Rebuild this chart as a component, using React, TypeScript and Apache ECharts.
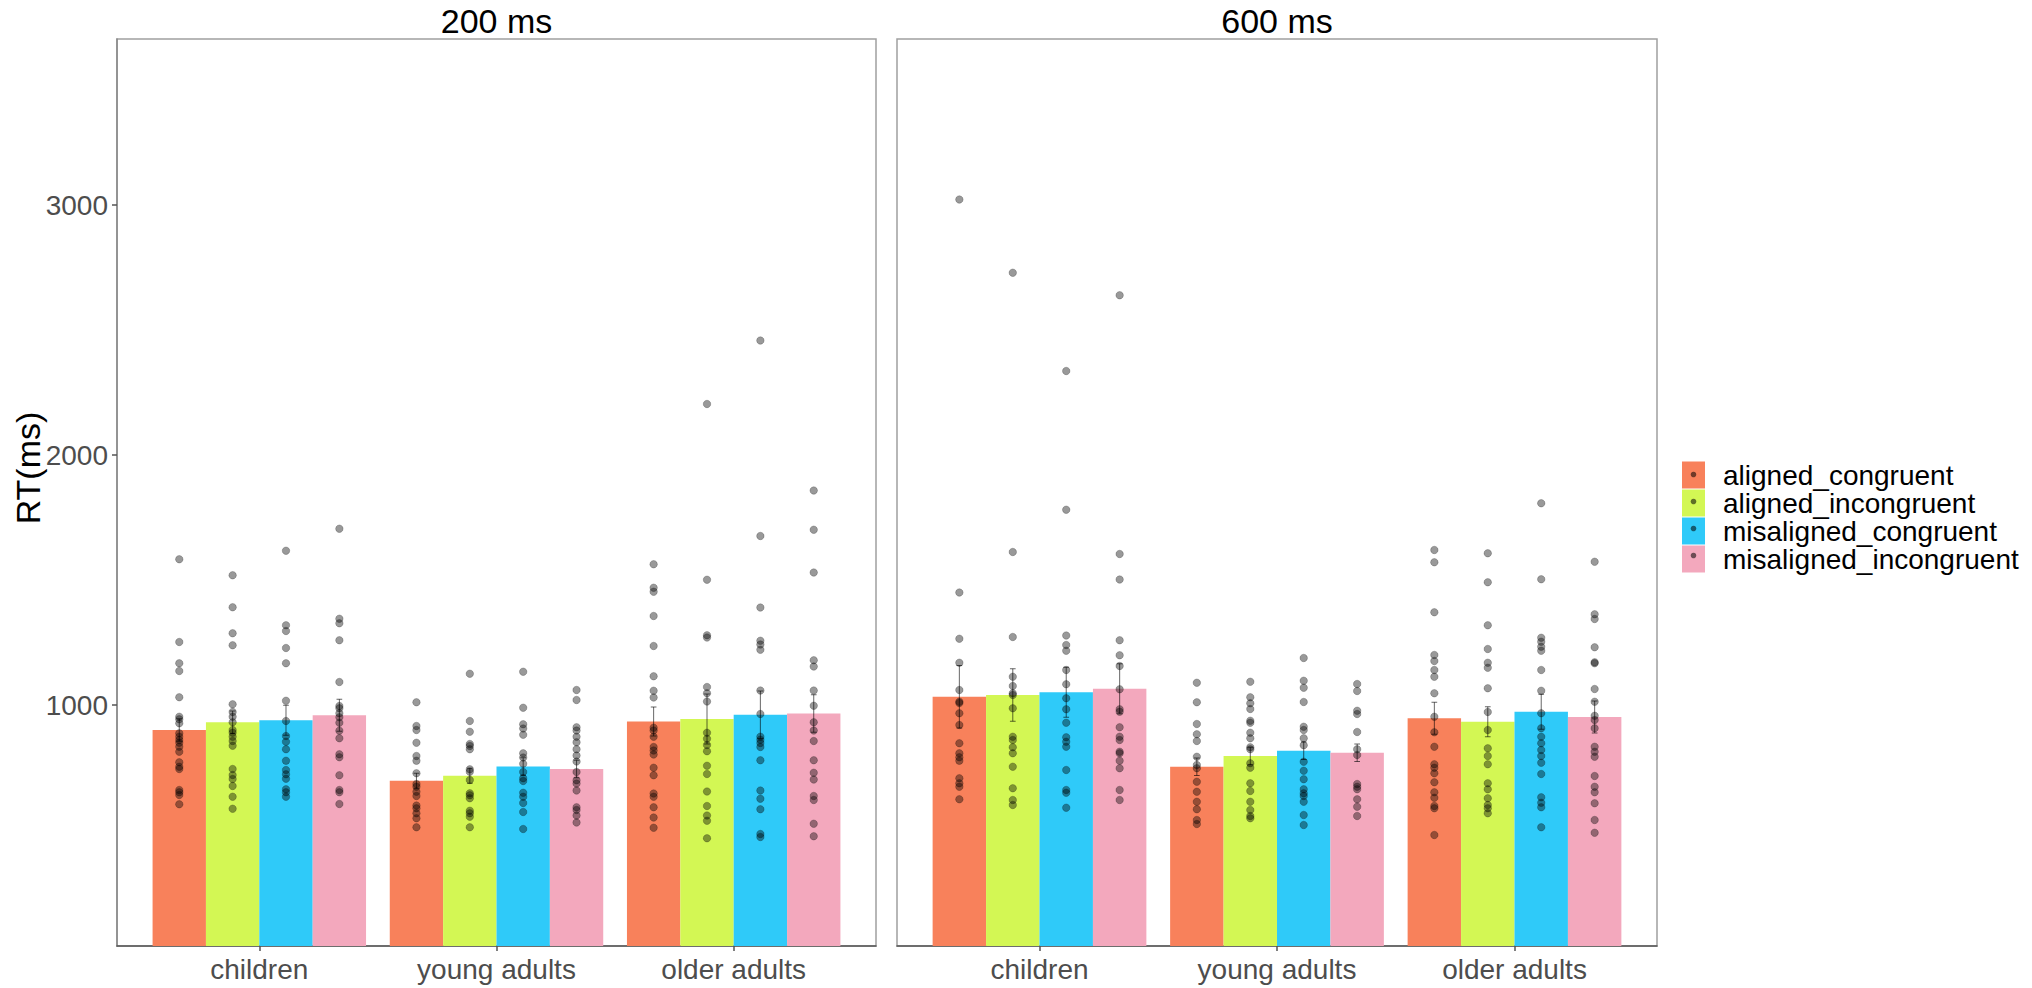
import React, { useEffect, useRef } from "react";
import * as echarts from "echarts";

const CATEGORIES = ["children", "young adults", "older adults"];
const CONDITIONS = ["aligned_congruent", "aligned_incongruent", "misaligned_congruent", "misaligned_incongruent"];
const COLORS = ["#F8815B", "#D3F754", "#2FCAF9", "#F3A8BD"];
const PANELS = ["200 ms", "600 ms"];
const Y_TICKS = [1000, 2000, 3000];
const Y_MIN = 36;
const Y_MAX = 3664;

// bar heights (means) per group: children, young adults, older adults
const mean200_ac = [900, 697, 934];
const mean200_ai = [931, 717, 944];
const mean200_mc = [939, 754, 961];
const mean200_mi = [959, 744, 966];
const mean600_ac = [1033, 753, 947];
const mean600_ai = [1040, 796, 933];
const mean600_mc = [1051, 817, 973];
const mean600_mi = [1065, 809, 952];

// error bar half widths
const se200_ac = [45, 30, 58];
const se200_ai = [45, 30, 100];
const se200_mc = [60, 35, 95];
const se200_mi = [64, 35, 75];
const se600_ac = [125, 35, 64];
const se600_ai = [105, 35, 60];
const se600_mc = [100, 35, 70];
const se600_mi = [100, 35, 64];

// individual participant RTs
const pts200_ac = [
  [1583, 1252, 1167, 1136, 1031, 953, 943, 927, 887, 873, 860, 849, 833, 813, 771, 753, 744, 660, 651, 640, 603],
  [1011, 916, 900, 849, 796, 777, 727, 684, 673, 653, 636, 598, 587, 567, 547, 511],
  [1563, 1469, 1453, 1356, 1236, 1115, 1057, 1030, 909, 898, 873, 832, 818, 802, 749, 719, 646, 633, 591, 550, 509],
];
const pts200_ai = [
  [1519, 1391, 1287, 1239, 1003, 972, 953, 931, 900, 889, 873, 856, 837, 744, 720, 704, 676, 633, 585],
  [1125, 936, 893, 844, 836, 823, 743, 733, 700, 647, 639, 627, 577, 567, 553, 511],
  [2204, 1501, 1279, 1270, 1072, 1047, 1014, 889, 865, 840, 815, 757, 724, 654, 596, 558, 537, 467],
];
const pts200_mc = [
  [1617, 1319, 1296, 1228, 1167, 1017, 936, 876, 853, 823, 777, 740, 723, 705, 663, 651, 633],
  [1133, 989, 923, 906, 881, 807, 790, 765, 732, 707, 696, 649, 633, 608, 572, 504],
  [2458, 1676, 1390, 1257, 1242, 1221, 1058, 964, 873, 861, 848, 832, 779, 658, 625, 583, 484, 472],
];
const pts200_mi = [
  [1705, 1345, 1327, 1259, 1092, 996, 987, 967, 951, 929, 897, 867, 803, 791, 719, 660, 651, 604],
  [1060, 1020, 911, 898, 873, 851, 823, 798, 774, 732, 699, 686, 658, 591, 580, 558, 530],
  [1858, 1701, 1530, 1179, 1154, 1058, 997, 931, 898, 856, 779, 729, 702, 636, 620, 525, 475],
];
const pts600_ac = [
  [3022, 1450, 1265, 1169, 1060, 1013, 1008, 967, 920, 847, 807, 791, 777, 707, 687, 673, 623],
  [1089, 1011, 924, 883, 856, 793, 760, 747, 693, 653, 613, 583, 540, 524],
  [1620, 1571, 1371, 1200, 1176, 1140, 1113, 1047, 953, 891, 833, 763, 749, 727, 691, 651, 629, 596, 587, 480],
];
const pts600_ai = [
  [2729, 1612, 1272, 1113, 1076, 1047, 1040, 987, 873, 860, 831, 807, 753, 667, 620, 600],
  [1093, 1031, 1007, 984, 937, 929, 889, 867, 831, 823, 767, 749, 687, 656, 613, 580, 556, 547],
  [1607, 1491, 1319, 1224, 1169, 1149, 1067, 972, 900, 827, 796, 763, 687, 663, 627, 600, 587, 567],
];
const pts600_mc = [
  [2336, 1781, 1278, 1240, 1217, 1140, 1083, 1027, 983, 929, 871, 853, 833, 740, 660, 649, 589],
  [1188, 1097, 1069, 1012, 913, 900, 867, 839, 773, 737, 703, 663, 647, 636, 613, 560, 520],
  [1807, 1503, 1269, 1253, 1233, 1217, 1140, 1057, 967, 907, 873, 847, 820, 796, 769, 724, 631, 609, 591, 511],
];
const pts600_mi = [
  [2639, 1604, 1502, 1259, 1199, 1156, 1063, 983, 973, 911, 873, 860, 813, 807, 777, 747, 660, 620],
  [1084, 1056, 977, 964, 892, 823, 800, 684, 673, 663, 623, 593, 556],
  [1573, 1363, 1344, 1231, 1171, 1167, 1064, 1013, 957, 940, 907, 833, 813, 793, 716, 673, 651, 607, 540, 489],
];

const MEANS = [
  [mean200_ac, mean200_ai, mean200_mc, mean200_mi],
  [mean600_ac, mean600_ai, mean600_mc, mean600_mi],
];
const SES = [
  [se200_ac, se200_ai, se200_mc, se200_mi],
  [se600_ac, se600_ai, se600_mc, se600_mi],
];
const POINTS = [
  [pts200_ac, pts200_ai, pts200_mc, pts200_mi],
  [pts600_ac, pts600_ai, pts600_mc, pts600_mi],
];

const FONT = "'Liberation Sans', Arial, Helvetica, sans-serif";
const DODGE = 0.9;
const BW = DODGE / 4;
const offsetOf = (c: number) => -DODGE / 2 + BW / 2 + c * BW;

const GRIDS = [
  { left: 117, top: 39, width: 759, height: 907 },
  { left: 897, top: 39, width: 760, height: 907 },
];

const LEGEND_LEFT = 1682;
const LEGEND_TOP = 461;
const KEY_W = 23;
const KEY_H = 27;

function buildOption() {
  const series: any[] = [];
  PANELS.forEach((_, p) => {
    CONDITIONS.forEach((cond, c) => {
      const off = offsetOf(c);
      series.push({
        type: "custom",
        name: cond,
        xAxisIndex: p,
        yAxisIndex: p,
        itemStyle: { color: COLORS[c] },
        encode: { x: 0, y: 1 },
        z: 2,
        data: MEANS[p][c].map((m, i) => [i + 1, m, m - SES[p][c][i], m + SES[p][c][i]]),
        renderItem: (params: any, api: any) => {
          const x = api.value(0) + off;
          const m = api.value(1);
          const lo = api.value(2);
          const hi = api.value(3);
          const tl = api.coord([x - BW / 2, m]);
          const br = api.coord([x + BW / 2, Y_MIN]);
          const eTop = api.coord([x, hi]);
          const eBot = api.coord([x, lo]);
          const capL = api.coord([x - 0.012, hi]);
          const capR = api.coord([x + 0.012, hi]);
          const capL2 = api.coord([x - 0.012, lo]);
          const capR2 = api.coord([x + 0.012, lo]);
          const lineStyle = { stroke: "rgba(0,0,0,0.6)", lineWidth: 1 };
          return {
            type: "group",
            children: [
              {
                type: "rect",
                shape: { x: tl[0], y: tl[1], width: br[0] - tl[0], height: br[1] - tl[1] },
                style: { fill: COLORS[c] },
              },
              { type: "line", shape: { x1: eTop[0], y1: eTop[1], x2: eBot[0], y2: eBot[1] }, style: lineStyle },
              { type: "line", shape: { x1: capL[0], y1: capL[1], x2: capR[0], y2: capR[1] }, style: lineStyle },
              { type: "line", shape: { x1: capL2[0], y1: capL2[1], x2: capR2[0], y2: capR2[1] }, style: lineStyle },
            ],
          };
        },
      });
    });
  });
  PANELS.forEach((_, p) => {
    CONDITIONS.forEach((cond, c) => {
      const off = offsetOf(c);
      const data: number[][] = [];
      POINTS[p][c].forEach((vals, i) => vals.forEach((v) => data.push([i + 1 + off, v])));
      series.push({
        type: "scatter",
        name: cond + " (participants)",
        xAxisIndex: p,
        yAxisIndex: p,
        symbol: "circle",
        symbolSize: 7.5,
        z: 3,
        itemStyle: { color: "rgba(0,0,0,0.5)", borderColor: "rgba(0,0,0,0.35)", borderWidth: 0.8 },
        data,
      });
    });
  });

  const labelStyle = { fontSize: 28, color: "#4d4d4d", fontFamily: FONT };

  return {
    animation: false,
    backgroundColor: "#ffffff",
    textStyle: { fontFamily: FONT },
    grid: GRIDS.map((g) => ({
      ...g,
      show: true,
      borderColor: "#a0a0a0",
      borderWidth: 1.5,
      backgroundColor: "transparent",
      containLabel: false,
    })),
    xAxis: GRIDS.map((_, p) => ({
      type: "value",
      gridIndex: p,
      min: 0.4,
      max: 3.6,
      axisLine: { show: true, onZero: false, lineStyle: { color: "#555555", width: 1.5 } },
      axisTick: { show: true, customValues: [1, 2, 3], length: 5, lineStyle: { color: "#555555", width: 1.5 } },
      axisLabel: {
        ...labelStyle,
        customValues: [1, 2, 3],
        margin: 9,
        formatter: (v: number) => CATEGORIES[Math.round(v) - 1] ?? "",
      },
      splitLine: { show: false },
    })),
    yAxis: GRIDS.map((_, p) =>
      p === 0
        ? {
            type: "value",
            gridIndex: 0,
            min: Y_MIN,
            max: Y_MAX,
            axisLine: { show: true, lineStyle: { color: "#888888", width: 1.5 } },
            axisTick: { show: true, customValues: Y_TICKS, length: 5, lineStyle: { color: "#555555", width: 1.5 } },
            axisLabel: { ...labelStyle, customValues: Y_TICKS, margin: 9, formatter: (v: number) => String(Math.round(v)) },
            splitLine: { show: false },
          }
        : {
            type: "value",
            gridIndex: 1,
            min: Y_MIN,
            max: Y_MAX,
            axisLine: { show: false },
            axisTick: { show: false },
            axisLabel: { show: false },
            splitLine: { show: false },
          }
    ),
    legend: {
      orient: "vertical",
      left: LEGEND_LEFT,
      top: LEGEND_TOP,
      padding: 0,
      itemWidth: KEY_W,
      itemHeight: KEY_H,
      itemGap: 0,
      icon: "rect",
      selectedMode: false,
      data: CONDITIONS,
      textStyle: { fontSize: 28, lineHeight: KEY_H, color: "#000000", fontFamily: FONT, padding: [0, 0, 0, 13] },
    },
    graphic: [
      ...PANELS.map((t, p) => ({
        type: "text",
        x: GRIDS[p].left + GRIDS[p].width / 2,
        y: 21,
        style: { text: t, fontSize: 34, fill: "#000000", fontFamily: FONT, textAlign: "center", textVerticalAlign: "middle" },
      })),
      {
        type: "text",
        x: 28,
        y: 468,
        rotation: Math.PI / 2,
        style: { text: "RT(ms)", fontSize: 34, fill: "#000000", fontFamily: FONT, textAlign: "center", textVerticalAlign: "middle" },
      },
      ...CONDITIONS.map((_, i) => ({
        type: "circle",
        shape: { cx: LEGEND_LEFT + KEY_W / 2, cy: LEGEND_TOP + KEY_H / 2 + i * KEY_H, r: 2.8 },
        style: { fill: "rgba(0,0,0,0.55)" },
        z: 100,
      })),
    ],
    series,
  };
}

export default function App() {
  const ref = useRef<HTMLDivElement>(null);
  useEffect(() => {
    document.body.style.margin = "0";
    if (!ref.current) return;
    const chart = echarts.init(ref.current, undefined, { renderer: "svg" });
    chart.setOption(buildOption() as any);
    return () => chart.dispose();
  }, []);
  return <div ref={ref} style={{ width: 2032, height: 988 }} />;
}
